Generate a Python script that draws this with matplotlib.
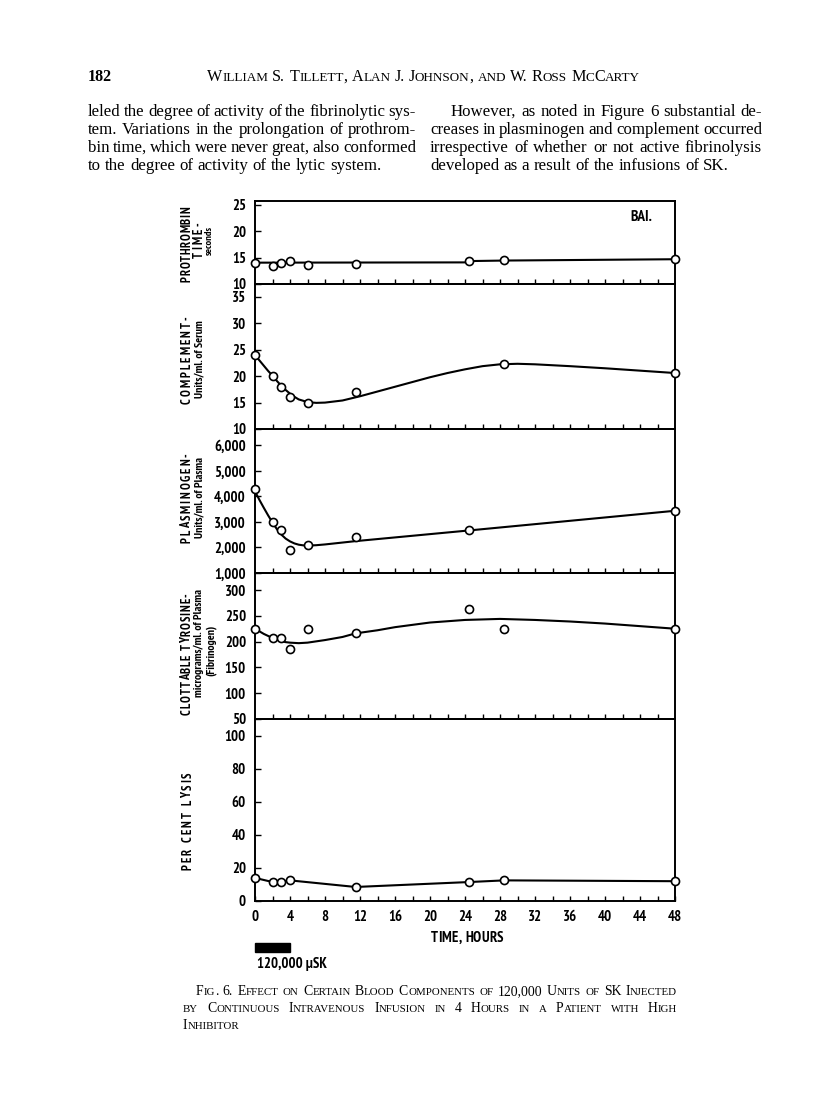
import numpy as np
import matplotlib
matplotlib.use("Agg")
import matplotlib.pyplot as plt
from matplotlib import font_manager as fm
from matplotlib.transforms import IdentityTransform, blended_transform_factory
from matplotlib.patches import Rectangle

# ---------------- data ----------------
hours_ticks = [0, 4, 8, 12, 16, 20, 24, 28, 32, 36, 40, 44, 48]
hours_ticklabels = ["0", "4", "8", "12", "16", "20", "24", "28", "32", "36", "40", "44", "48"]

# Prothrombin time, seconds
pro_t = [0, 2, 3, 4, 6, 11.5, 24.5, 28.5, 48]
pro_v = [14.0, 13.4, 14.0, 14.4, 13.6, 13.8, 14.4, 14.5, 14.7]
pro_line_t = [0, 24, 24.5, 28.5, 48]
pro_line_v = [14.05, 14.1, 14.35, 14.45, 14.7]
pro_yticks = [10, 15, 20, 25]
pro_yticklabels = ["10", "15", "20", "25"]

# Complement, units/ml of serum
comp_t = [0, 2, 3, 4, 6, 11.5, 28.5, 48]
comp_v = [24.0, 20.0, 18.0, 16.0, 15.0, 17.0, 22.3, 20.6]
comp_curve_t = [0, 0.5, 1, 1.5, 2, 2.5, 3, 3.5, 4, 4.5, 5, 6, 7, 8, 10, 12, 14, 16, 18,
                20, 22, 24, 26, 28, 30, 32, 36, 40, 44, 48]
comp_curve_v = [24.0, 23.0, 22.0, 21.0, 20.1, 19.1, 18.2, 17.4, 16.7, 16.1, 15.6, 15.1,
                14.95, 15.0, 15.4, 16.2, 17.1, 18.0, 18.9, 19.8, 20.6, 21.3, 21.9, 22.25,
                22.35, 22.25, 21.9, 21.5, 21.05, 20.6]
comp_yticks = [10, 15, 20, 25, 30, 35]
comp_yticklabels = ["10", "15", "20", "25", "30", "35"]

# Plasminogen, units/ml of plasma
plas_t = [0, 2, 3, 4, 6, 11.5, 24.5, 48]
plas_v = [4300, 3000, 2700, 1900, 2100, 2400, 2700, 3450]
plas_curve_t = [0, 0.5, 1, 1.5, 2, 2.5, 3, 3.5, 4, 4.5, 5, 5.5, 6, 7, 8, 11.5, 24.5, 48]
plas_curve_v = [4200, 3870, 3560, 3260, 2980, 2720, 2510, 2350, 2240, 2160, 2110, 2085,
                2075, 2090, 2120, 2250, 2670, 3440]
plas_yticks = [1000, 2000, 3000, 4000, 5000, 6000]
plas_yticklabels = ["1,000", "2,000", "3,000", "4,000", "5,000", "6,000"]

# Clottable tyrosine, micrograms/ml of plasma
tyr_t = [0, 2, 3, 4, 6, 11.5, 24.5, 28.5, 48]
tyr_v = [225, 207, 207, 185, 224, 217, 264, 224, 225]
tyr_curve_t = [0, 0.5, 1, 1.5, 2, 2.5, 3, 3.5, 4, 5, 6, 8, 10, 11.5, 14, 16, 20, 24, 28,
               32, 36, 40, 44, 48]
tyr_curve_v = [225, 220, 215, 211, 207, 204, 201, 199, 198, 197, 198, 203, 209, 216, 222,
               228, 237, 242, 244, 242, 239, 235, 230, 225]
tyr_yticks = [50, 100, 150, 200, 250, 300]
tyr_yticklabels = ["50", "100", "150", "200", "250", "300"]

# Per cent lysis
lys_t = [0, 2, 3, 4, 11.5, 24.5, 28.5, 48]
lys_v = [14.0, 11.5, 11.5, 12.5, 8.5, 11.5, 12.5, 12.0]
lys_yticks = [0, 20, 40, 60, 80, 100]
lys_yticklabels = ["0", "20", "40", "60", "80", "100"]

infusion_hours = [0, 4]
infusion_label = "120,000 \u00b5SK"

# ---------------- fonts ----------------
WMAP = {"ultralight": 200, "light": 300, "normal": 400, "regular": 400, "book": 400,
        "medium": 500, "roman": 400, "semibold": 600, "demibold": 600, "demi": 600,
        "bold": 700, "extra bold": 800, "heavy": 800, "black": 900}


def wnum(w):
    if isinstance(w, (int, float)):
        return int(w)
    return WMAP.get(str(w).lower(), 400)


entries = fm.fontManager.ttflist
names = sorted(set(f.name for f in entries))


def has_bold(name, stretch=None):
    for f in entries:
        if f.name == name and wnum(f.weight) >= 600:
            if stretch is None or str(f.stretch) == stretch:
                return True
    return False


NARROW, STRETCH = None, "normal"
for n in [n for n in names if "Narrow" in n] + [n for n in names if "Condensed" in n]:
    if has_bold(n):
        NARROW = n
        break
if NARROW is None:
    if has_bold("DejaVu Sans", "condensed"):
        NARROW, STRETCH = "DejaVu Sans", "condensed"
    elif "Roboto" in names:
        NARROW = "Roboto"
    else:
        NARROW = "DejaVu Sans"

SERIF = "Liberation Serif" if "Liberation Serif" in names else "DejaVu Serif"


def nfp(size, weight="bold"):
    return fm.FontProperties(family=NARROW, stretch=STRETCH, weight=weight, size=size)


def sfp(size, weight="normal"):
    return fm.FontProperties(family=SERIF, weight=weight, size=size)


W, H = 816, 1109
fig = plt.figure(figsize=(W / 100, H / 100), dpi=100)
fig.patch.set_facecolor("white")
renderer = fig.canvas.get_renderer()
ID = IdentityTransform()


def put(x, y, s, prop, **kw):
    return fig.text(x, H - y, s, transform=ID, fontproperties=prop, **kw)


def width_of(s, prop):
    if s == "":
        return 0.0
    t = fig.text(0, 0, s, transform=ID, fontproperties=prop)
    w = t.get_window_extent(renderer).width
    t.remove()
    return w


def advance(c, prop):
    # advance width of one character, measured between two sentinels
    return width_of("I" + c + "I", prop) - width_of("II", prop)


# ---------- small caps / justified text helpers ----------
def sc_runs(word):
    runs = []
    for ch in word:
        big = not ch.islower()
        if runs and runs[-1][1] == big:
            runs[-1][0] += ch.upper()
        else:
            runs.append([ch.upper(), big])
    return runs


def word_width(word, big, small, sc, weight):
    if not sc:
        return width_of(word, sfp(big, weight))
    return sum(width_of(r, sfp(big if b else small, weight)) for r, b in sc_runs(word))


def draw_word(x, y, word, big, small, sc, weight):
    if not sc:
        put(x, y, word, sfp(big, weight), ha="left", va="baseline")
        return
    for r, b in sc_runs(word):
        p = sfp(big if b else small, weight)
        put(x, y, r, p, ha="left", va="baseline")
        x += width_of(r, p)


def natural_width(text, big, small=None, sc=False, weight="normal"):
    words = text.split()
    sp = width_of("n n", sfp(big)) - width_of("nn", sfp(big))
    return sum(word_width(w, big, small, sc, weight) for w in words) + sp * (len(words) - 1)


def draw_line(x0, x1, y, text, big, small=None, sc=False, justify=True, weight="normal"):
    words = text.split()
    ws = [word_width(w, big, small, sc, weight) for w in words]
    if justify and len(words) > 1:
        gap = (x1 - x0 - sum(ws)) / (len(words) - 1)
    else:
        gap = width_of("n n", sfp(big)) - width_of("nn", sfp(big))
    x = x0
    for w, wd in zip(words, ws):
        draw_word(x, y, w, big, small, sc, weight)
        x += wd + gap


def char_layout(text, fs, length):
    p = nfp(fs)
    adv = [advance(c, p) for c in text]
    full = sum(adv)
    if full > length:
        p = nfp(fs * length / full)
        adv = [advance(c, p) for c in text]
        full = sum(adv)
    n = len(text)
    sp = max(0.0, (length - full) / max(1, n - 1))
    total = full + sp * (n - 1)
    centres = []
    pos = 0.0
    for a in adv:
        centres.append(pos + a / 2.0)
        pos += a + sp
    return p, centres, total


def spaced_vertical(x, yc, text, fs, length):
    p, centres, total = char_layout(text, fs, length)
    start = yc + total / 2.0
    for c, cc in zip(text, centres):
        if c != " ":
            put(x, start - cc, c, p, rotation=90, ha="center", va="center")


def spaced_horizontal(xc, y, text, fs, length):
    p, centres, total = char_layout(text, fs, length)
    start = xc - total / 2.0
    for c, cc in zip(text, centres):
        if c != " ":
            put(start + cc, y, c, p, ha="center", va="center")


def fit_vertical(x, yc, text, length, maxfs):
    w = width_of(text, nfp(10))
    fs = min(maxfs, 10 * length / w)
    put(x, yc, text, nfp(fs), rotation=90, ha="center", va="center")


# ---------------- page header and body text ----------------
put(88, 81, "182", sfp(11.5, "bold"), ha="left", va="baseline")
hdr = "William S. Tillett, Alan J. Johnson, and W. Ross McCarty"
k = 433.0 / natural_width(hdr, 10, 8.2, sc=True)
draw_line(207, 640, 81, hdr, big=10 * k, small=8.2 * k, sc=True, justify=True)

left_col = ["leled the degree of activity of the fibrinolytic sys-",
            "tem.  Variations in the prolongation of prothrom-",
            "bin time, which were never great, also conformed",
            "to the degree of activity of the lytic system."]
right_col = ["However, as noted in Figure 6 substantial de-",
             "creases in plasminogen and complement occurred",
             "irrespective of whether or not active fibrinolysis",
             "developed as a result of the infusions of SK."]
targets = [328, 328, 328, 311, 332, 332]
lines_fit = left_col[:3] + [right_col[0]] + right_col[1:3]
fs_list = [10 * t / natural_width(l, 10) for t, l in zip(targets, lines_fit)]
BODY = float(np.median(fs_list))
base_y = [116, 134, 152, 170]
for i, (l, y) in enumerate(zip(left_col, base_y)):
    draw_line(88, 416, y, l, big=BODY, justify=(i < 3))
for i, (l, y) in enumerate(zip(right_col, base_y)):
    draw_line(451 if i == 0 else 430, 762, y, l, big=BODY, justify=(i < 3))

# ---------------- chart panels ----------------
AX_L, AX_R = 255, 675
panels = [
    dict(top=201, bot=284, ylim=(10, 25.75), yt=pro_yticks, ytl=pro_yticklabels),
    dict(top=284, bot=429, ylim=(10, 37.46), yt=comp_yticks, ytl=comp_yticklabels),
    dict(top=429, bot=573, ylim=(1000, 6647), yt=plas_yticks, ytl=plas_yticklabels),
    dict(top=573, bot=719, ylim=(50, 333), yt=tyr_yticks, ytl=tyr_yticklabels),
    dict(top=719, bot=901, ylim=(0, 110.3), yt=lys_yticks, ytl=lys_yticklabels),
]
TICKFP = nfp(10.6)
axes = []
for i, p in enumerate(panels):
    ax = fig.add_axes([AX_L / W, 1 - p["bot"] / H, (AX_R - AX_L) / W, (p["bot"] - p["top"]) / H])
    ax.set_xlim(0, 48)
    ax.set_ylim(*p["ylim"])
    ax.set_facecolor("none")
    for s in ax.spines.values():
        s.set_linewidth(1.4)
        s.set_color("black")
    ax.set_yticks(p["yt"])
    ax.set_yticklabels(p["ytl"])
    ax.tick_params(axis="y", direction="in", length=4.5, width=1.0, pad=6.5, left=True,
                   right=False)
    if i < 4:
        ax.set_xticks(np.arange(2, 48, 2))
        ax.tick_params(axis="x", direction="in", length=3.8, width=1.0, labelbottom=False,
                       top=False)
    else:
        ax.set_xticks(hours_ticks)
        ax.set_xticklabels(hours_ticklabels)
        ax.set_xticks(np.arange(2, 48, 4), minor=True)
        ax.tick_params(axis="x", which="both", direction="in", length=3.8, width=1.0,
                       top=False, pad=6.5)
    for lab in ax.get_yticklabels() + ax.get_xticklabels():
        lab.set_fontproperties(TICKFP)
    axes.append(ax)

mk = dict(linestyle="none", marker="o", ms=5.8, mfc="white", mec="black", mew=1.2,
          clip_on=False, zorder=4)
lw = dict(color="black", lw=1.5, solid_capstyle="round", zorder=3, clip_on=False)

axes[0].plot(pro_line_t, pro_line_v, **lw)
axes[0].plot(pro_t, pro_v, **mk)
axes[1].plot(comp_curve_t, comp_curve_v, **lw)
axes[1].plot(comp_t, comp_v, **mk)
axes[2].plot(plas_curve_t, plas_curve_v, **lw)
axes[2].plot(plas_t, plas_v, **mk)
axes[3].plot(tyr_curve_t, tyr_curve_v, **lw)
axes[3].plot(tyr_t, tyr_v, **mk)
axes[4].plot(lys_t, lys_v, **lw)
axes[4].plot(lys_t, lys_v, **mk)

put(652, 217, "BAI.", nfp(11), ha="right", va="center")

# y-axis titles
spaced_vertical(187, 244, "PROTHROMBIN", 9, 75)
spaced_vertical(199, 240, "TIME-", 9, 35)
fit_vertical(209, 240, "seconds", 35, 7.5)
spaced_vertical(187, 360, "COMPLEMENT-", 9, 87)
fit_vertical(199, 359, "Units/ml. of Serum", 88, 8.5)
spaced_vertical(187, 498, "PLASMINOGEN-", 9, 90)
fit_vertical(199, 498, "Units/ml. of Plasma", 97, 8.5)
spaced_vertical(187, 654, "CLOTTABLE TYROSINE-", 9, 122)
fit_vertical(199, 643, "micrograms/ml. of Plasma", 120, 8.5)
fit_vertical(211, 650, "(Fibrinogen)", 66, 8.5)
spaced_vertical(188, 821, "PER CENT LYSIS", 9, 98)

# x-axis title
spaced_horizontal(467, 938, "TIME, HOURS", 10.6, 72)

# infusion bar
bt = blended_transform_factory(axes[4].transData, ID)
axes[4].add_patch(Rectangle((infusion_hours[0], H - 952), infusion_hours[1] - infusion_hours[0], 9,
                            transform=bt, facecolor="black", edgecolor="black", clip_on=False))
put(257, 968, infusion_label, nfp(10.6), ha="left", va="baseline")

# caption (small caps)
cap1 = "Fig. 6.  Effect on Certain Blood Components of 120,000 Units of SK Injected"
cap2 = "by Continuous Intravenous Infusion in 4 Hours in a Patient with High"
k1 = 481.0 / natural_width(cap1, 10, 7.9, sc=True)
k2 = 494.0 / natural_width(cap2, 10, 7.9, sc=True)
kc = min(k1, k2) * 0.98
draw_line(196, 677, 995, cap1, big=10 * kc, small=7.9 * kc, sc=True, justify=True)
draw_line(183, 677, 1012, cap2, big=10 * kc, small=7.9 * kc, sc=True, justify=True)
draw_line(183, 677, 1029, "Inhibitor", big=10 * kc, small=7.9 * kc, sc=True, justify=False)

fig.savefig("out.png", dpi=100, facecolor="white")
